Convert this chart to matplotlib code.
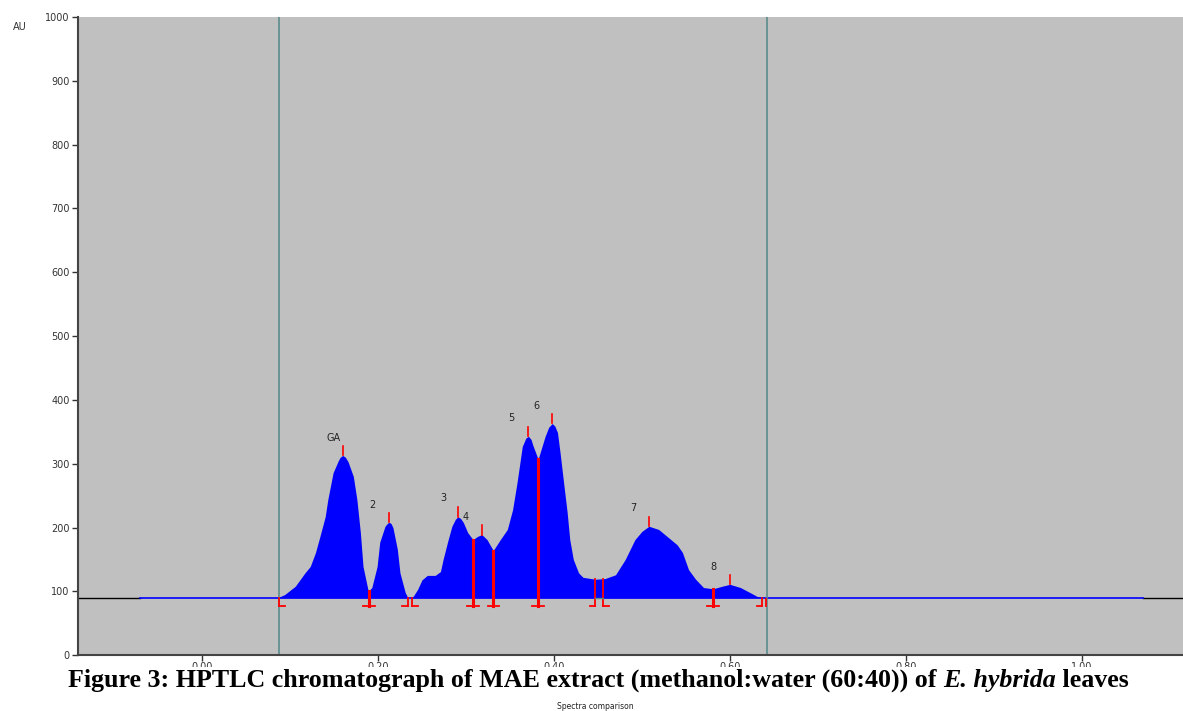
import matplotlib
matplotlib.use('Agg')
import matplotlib.pyplot as plt
from matplotlib.patches import Rectangle

# densitogram trace (Rf, AU)
rf = [0.0875, 0.094, 0.106, 0.117, 0.123, 0.129, 0.134, 0.140, 0.143, 0.149,
      0.155, 0.157, 0.160, 0.163, 0.166, 0.172, 0.176, 0.180, 0.183, 0.189,
      0.193, 0.199, 0.202, 0.208, 0.211, 0.213, 0.215, 0.217, 0.222, 0.225,
      0.231, 0.234, 0.239, 0.245, 0.250, 0.256, 0.265, 0.271, 0.274, 0.279,
      0.284, 0.288, 0.291, 0.294, 0.297, 0.302, 0.308, 0.313, 0.318, 0.324,
      0.331, 0.339, 0.347, 0.353, 0.358, 0.364, 0.368, 0.371, 0.374, 0.376,
      0.382, 0.390, 0.394, 0.398, 0.401, 0.404, 0.407, 0.411, 0.415, 0.418,
      0.422, 0.428, 0.433, 0.447, 0.458, 0.470, 0.481, 0.492, 0.500, 0.508,
      0.519, 0.526, 0.540, 0.546, 0.553, 0.561, 0.570, 0.581, 0.591, 0.600,
      0.612, 0.623, 0.631, 0.637]
au = [91, 95, 108, 129, 139, 161, 186, 217, 244, 286,
      305, 310, 313, 310, 303, 280, 244, 192, 139, 100,
      106, 139, 177, 202, 207, 208, 206, 200, 166, 129,
      98, 90, 90, 103, 118, 125, 125, 131, 150, 177,
      202, 213, 217, 214, 208, 192, 181, 186, 189, 181,
      164, 181, 197, 228, 270, 327, 340, 343, 338, 329,
      307, 343, 357, 363, 359, 349, 317, 270, 224, 181,
      150, 129, 122, 119, 120, 126, 150, 181, 194, 202,
      197, 189, 173, 161, 134, 119, 106, 104, 108, 111,
      106, 98, 92, 90]
baseline = 90

peak_rf = [0.160, 0.213, 0.291, 0.318, 0.371, 0.398, 0.508, 0.600]
peak_au = [313, 208, 217, 189, 343, 363, 202, 111]
peak_names = ['GA', '2', '3', '4', '5', '6', '7', '8']
label_rf = [0.149, 0.194, 0.274, 0.300, 0.351, 0.380, 0.490, 0.581]
label_au = [341, 236, 246, 217, 371, 390, 230, 138]

# peak boundaries: position, top of marker, foot style
bound_rf = [0.0875, 0.190, 0.234, 0.239, 0.308, 0.331, 0.382, 0.447, 0.456, 0.581, 0.637]
bound_au = [90, 100, 90, 90, 181, 164, 307, 119, 120, 104, 90]
bound_kind = ['[', 'T', ']', '[', 'T', 'T', 'T', ']', '[', 'T', ']']

track_rf = [0.0875, 0.6424]
xticks = [0.0, 0.2, 0.4, 0.6, 0.8, 1.0]
yticks = list(range(0, 1001, 100))

fig = plt.figure(figsize=(11.83, 7.11), dpi=100)
ax = fig.add_axes([0.0659, 0.0785, 0.9341, 0.8977])
ax.set_facecolor('#c0c0c0')
ax.set_xlim(-0.141, 1.115)
ax.set_ylim(0, 1000)

# baseline
ax.plot([-0.141, -0.07], [baseline, baseline], color='black', lw=1)
ax.plot([1.07, 1.115], [baseline, baseline], color='black', lw=1)
ax.plot([-0.07, 1.07], [baseline, baseline], color='blue', lw=1.2)
ax.fill_between(rf, baseline, au, color='#0000ff', lw=0)

for x in track_rf:
    ax.axvline(x, color='#5a8c8c', lw=1.2)

red = '#ff0000'
foot = 77
w = 0.0065
for x, top, k in zip(bound_rf, bound_au, bound_kind):
    ax.plot([x, x], [foot, top], color=red, lw=2.2 if k == 'T' else 1.3)
    if k == 'T':
        ax.plot([x - w, x + w], [foot, foot], color=red, lw=1.3)
    elif k == '[':
        ax.plot([x, x + w], [foot, foot], color=red, lw=1.3)
    else:
        ax.plot([x - w, x], [foot, foot], color=red, lw=1.3)
ax.plot([0.6405, 0.6405], [foot, 88], color=red, lw=1.3)
ax.plot([0.447, 0.456], [baseline, baseline], color='#5a8c8c', lw=1)

for x, y in zip(peak_rf, peak_au):
    ax.plot([x, x], [y, y + 15], color=red, lw=1.2)
for name, x, y in zip(peak_names, label_rf, label_au):
    ax.text(x, y, name, fontsize=7, ha='center', va='center', color='#222222',
            family='DejaVu Sans')

ax.set_xticks(xticks)
ax.set_xticklabels(['%.2f' % t for t in xticks])
ax.set_yticks(yticks)
ax.tick_params(axis='both', labelsize=7, colors='#333333', length=4, width=1)
ax.tick_params(axis='x', pad=1)
ax.tick_params(axis='y', pad=2)
ax.spines['top'].set_visible(False)
ax.spines['right'].set_visible(False)
ax.spines['left'].set_color('#444444')
ax.spines['bottom'].set_color('#444444')
ax.spines['left'].set_linewidth(1.5)
ax.spines['bottom'].set_linewidth(1.5)

fig.text(0.017, 0.962, 'AU', fontsize=7, color='#333333', ha='center', va='center')

# caption strip covering lower half of the x labels
fig.add_artist(Rectangle((0, 0), 1, 0.062, transform=fig.transFigure,
                         facecolor='white', edgecolor='none', zorder=2))

parts = [('Figure 3: HPTLC chromatograph of MAE extract (methanol:water (60:40)) of ', 'normal'),
         ('E. hybrida', 'italic'),
         (' leaves', 'normal')]
renderer = fig.canvas.get_renderer()
texts = []
for s, style in parts:
    t = fig.text(0, 0.043, s, fontsize=18.7, weight='bold', style=style,
                 family='Liberation Serif', va='center', ha='left', zorder=3)
    texts.append(t)
widths = [t.get_window_extent(renderer).width / fig.bbox.width for t in texts]
x0 = 0.5055 - sum(widths) / 2
for t, wd in zip(texts, widths):
    t.set_x(x0)
    x0 += wd

fig.text(0.503, 0.007, 'Spectra comparison', fontsize=5.5,
         ha='center', va='center', color='#222222', zorder=3)

fig.savefig('out.png', dpi=100)
